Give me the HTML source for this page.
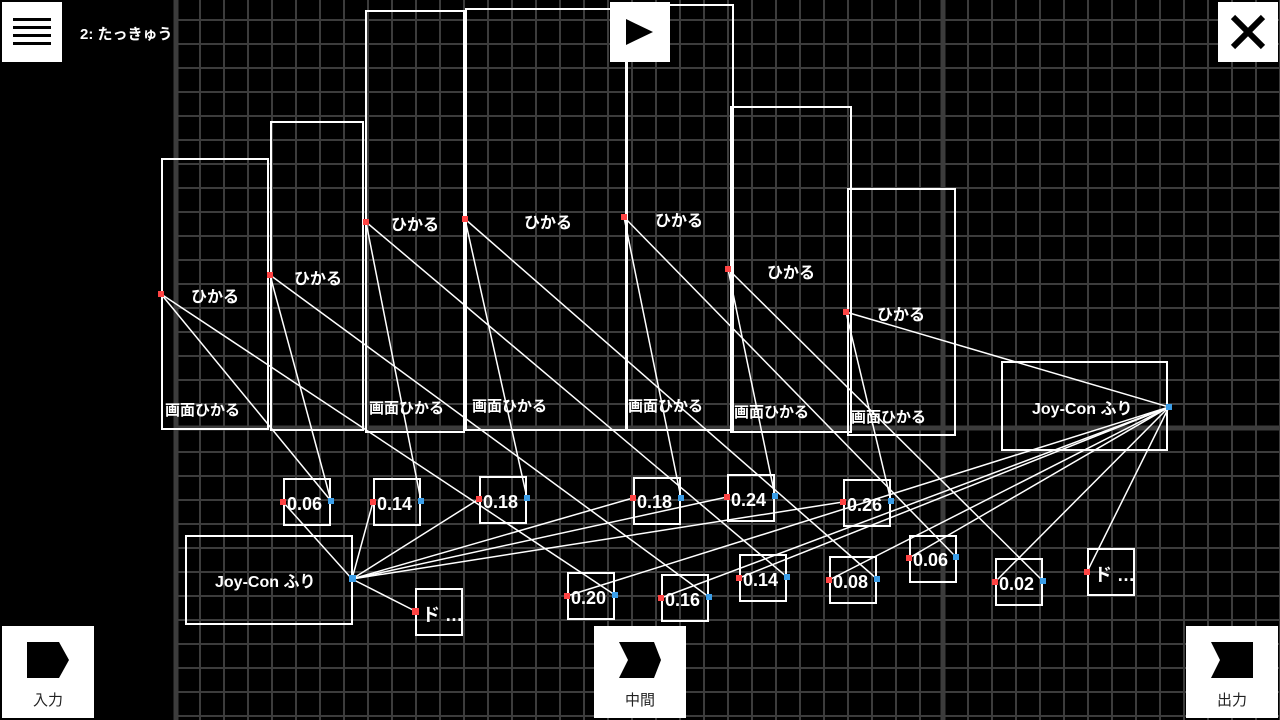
<!DOCTYPE html>
<html><head><meta charset="utf-8"><style>
html,body{margin:0;padding:0;background:#000;width:1280px;height:720px;overflow:hidden}
svg{display:block}
text{font-family:"Liberation Sans","Noto Sans CJK JP",sans-serif;fill:#fff}
</style></head><body>
<svg width="1280" height="720" viewBox="0 0 1280 720">
<defs>
<pattern id="g" x="175" y="19" width="24" height="24" patternUnits="userSpaceOnUse">
<rect x="0" y="0" width="2" height="24" fill="#3c3c3c"/>
<rect x="0" y="0" width="24" height="2" fill="#3c3c3c"/>
</pattern>
</defs>
<rect width="1280" height="720" fill="#000"/>
<rect x="175" y="0" width="1105" height="720" fill="url(#g)"/>
<line x1="176" y1="0" x2="176" y2="720" stroke="#3c3c3c" stroke-width="5"/>
<line x1="943" y1="0" x2="943" y2="720" stroke="#3c3c3c" stroke-width="5"/>
<line x1="176" y1="428" x2="1280" y2="428" stroke="#3c3c3c" stroke-width="5"/>

<g fill="none" stroke="#fff" stroke-width="2">
<rect x="162" y="159" width="106" height="270"/>
<rect x="271" y="122" width="92" height="308"/>
<rect x="366" y="11" width="98" height="421"/>
<rect x="466" y="9" width="160" height="421"/>
<rect x="627" y="5" width="106" height="425"/>
<rect x="731" y="107" width="120" height="325"/>
<rect x="848" y="189" width="107" height="246"/>
<rect x="1002" y="362" width="165" height="88"/>
<rect x="186" y="536" width="166" height="88"/>
<rect x="284" y="479" width="46" height="46"/>
<rect x="374" y="479" width="46" height="46"/>
<rect x="480" y="477" width="46" height="46"/>
<rect x="634" y="478" width="46" height="46"/>
<rect x="728" y="475" width="46" height="46"/>
<rect x="844" y="480" width="46" height="46"/>
<rect x="910" y="536" width="46" height="46"/>
<rect x="996" y="559" width="46" height="46"/>
<rect x="1088" y="549" width="46" height="46"/>
<rect x="416" y="589" width="46" height="46"/>
<rect x="568" y="573" width="46" height="46"/>
<rect x="662" y="575" width="46" height="46"/>
<rect x="740" y="555" width="46" height="46"/>
<rect x="830" y="557" width="46" height="46"/>
</g>

<g stroke="#fff" stroke-width="1.5">
<line x1="352" y1="579" x2="283" y2="502"/>
<line x1="352" y1="579" x2="373" y2="502"/>
<line x1="352" y1="579" x2="479" y2="499"/>
<line x1="352" y1="579" x2="633" y2="498"/>
<line x1="352" y1="579" x2="727" y2="497"/>
<line x1="352" y1="579" x2="843" y2="502"/>
<line x1="352" y1="579" x2="415" y2="611"/>
<line x1="1169" y1="407" x2="567" y2="596"/>
<line x1="1169" y1="407" x2="661" y2="598"/>
<line x1="1169" y1="407" x2="739" y2="578"/>
<line x1="1169" y1="407" x2="829" y2="580"/>
<line x1="1169" y1="407" x2="909" y2="558"/>
<line x1="1169" y1="407" x2="995" y2="582"/>
<line x1="1169" y1="407" x2="1087" y2="572"/>
<line x1="161" y1="294" x2="331" y2="501"/>
<line x1="161" y1="294" x2="615" y2="595"/>
<line x1="270" y1="275" x2="331" y2="501"/>
<line x1="270" y1="275" x2="709" y2="597"/>
<line x1="366" y1="222" x2="421" y2="501"/>
<line x1="366" y1="222" x2="787" y2="577"/>
<line x1="465" y1="219" x2="527" y2="498"/>
<line x1="465" y1="219" x2="877" y2="579"/>
<line x1="624" y1="217" x2="681" y2="498"/>
<line x1="624" y1="217" x2="956" y2="557"/>
<line x1="728" y1="269" x2="775" y2="496"/>
<line x1="728" y1="269" x2="1043" y2="581"/>
<line x1="846" y1="312" x2="891" y2="501"/>
<line x1="846" y1="312" x2="1169" y2="407"/>
</g>

<g fill="#f44">
<rect x="158" y="291" width="6" height="6"/><rect x="267" y="272" width="6" height="6"/>
<rect x="363" y="219" width="6" height="6"/><rect x="462" y="216" width="6" height="6"/>
<rect x="621" y="214" width="6" height="6"/><rect x="725" y="266" width="6" height="6"/>
<rect x="843" y="309" width="6" height="6"/>
<rect x="280" y="499" width="6" height="6"/><rect x="370" y="499" width="6" height="6"/>
<rect x="476" y="496" width="6" height="6"/><rect x="630" y="495" width="6" height="6"/>
<rect x="724" y="494" width="6" height="6"/><rect x="840" y="499" width="6" height="6"/>
<rect x="906" y="555" width="6" height="6"/><rect x="992" y="579" width="6" height="6"/>
<rect x="1084" y="569" width="6" height="6"/><rect x="412" y="608" width="7" height="7"/>
<rect x="564" y="593" width="6" height="6"/><rect x="658" y="595" width="6" height="6"/>
<rect x="736" y="575" width="6" height="6"/><rect x="826" y="577" width="6" height="6"/>
</g>
<g fill="#3b9ee8">
<rect x="328" y="498" width="6" height="6"/><rect x="418" y="498" width="6" height="6"/>
<rect x="524" y="495" width="6" height="6"/><rect x="678" y="495" width="6" height="6"/>
<rect x="772" y="493" width="6" height="6"/><rect x="888" y="498" width="6" height="6"/>
<rect x="953" y="554" width="6" height="6"/><rect x="1040" y="578" width="6" height="6"/>
<rect x="612" y="592" width="6" height="6"/><rect x="706" y="594" width="6" height="6"/>
<rect x="784" y="574" width="6" height="6"/><rect x="874" y="576" width="6" height="6"/>
<rect x="349" y="575" width="7" height="7"/><rect x="1166" y="404" width="6" height="6"/>
</g>

<g font-size="16" font-weight="bold">
<text x="191" y="302">ひかる</text>
<text x="294" y="284">ひかる</text>
<text x="391" y="230">ひかる</text>
<text x="524" y="228">ひかる</text>
<text x="655" y="226">ひかる</text>
<text x="767" y="278">ひかる</text>
<text x="877" y="320">ひかる</text>
</g>
<g font-size="15" font-weight="bold">
<text x="165" y="415">画面ひかる</text>
<text x="369" y="413">画面ひかる</text>
<text x="472" y="411">画面ひかる</text>
<text x="628" y="411">画面ひかる</text>
<text x="734" y="417">画面ひかる</text>
<text x="851" y="422">画面ひかる</text>
<text x="1032" y="414" font-size="16">Joy-Con ふり</text>
<text x="215" y="587" font-size="16">Joy-Con ふり</text>
</g>
<g font-size="18" font-weight="bold">
<text x="287" y="510">0.06</text><text x="377" y="510">0.14</text>
<text x="483" y="508">0.18</text><text x="637" y="508">0.18</text>
<text x="731" y="506">0.24</text><text x="847" y="511">0.26</text>
<text x="913" y="566">0.06</text><text x="999" y="590">0.02</text>
<text x="1094" y="581">ド …</text><text x="422" y="621">ド …</text>
<text x="571" y="604">0.20</text><text x="665" y="606">0.16</text>
<text x="743" y="586">0.14</text><text x="833" y="588">0.08</text>
</g>

<text x="80" y="39" font-size="15" font-weight="bold">2: たっきゅう</text>

<rect x="2" y="2" width="60" height="60" fill="#fff"/>
<g fill="#000"><rect x="13" y="18" width="38" height="3"/><rect x="13" y="26" width="38" height="3"/><rect x="13" y="34" width="38" height="3"/><rect x="13" y="42" width="38" height="3"/></g>
<rect x="610" y="2" width="60" height="60" fill="#fff"/>
<polygon points="626,19 653,32 626,45" fill="#000"/>
<rect x="1218" y="2" width="60" height="60" fill="#fff"/>
<path d="M1233 17L1263 47M1263 17L1233 47" stroke="#000" stroke-width="6"/>

<rect x="2" y="626" width="92" height="92" fill="#fff"/>
<polygon points="27,642 59,642 69,660 59,678 27,678" fill="#000"/>
<text x="33" y="705" font-size="15" style="fill:#222">入力</text>
<rect x="594" y="626" width="92" height="92" fill="#fff"/>
<polygon points="619,642 654,642 661,660 654,678 619,678 628,660" fill="#000"/>
<text x="625" y="705" font-size="15" style="fill:#222">中間</text>
<rect x="1186" y="626" width="92" height="92" fill="#fff"/>
<polygon points="1211,642 1253,642 1253,678 1211,678 1220,660" fill="#000"/>
<text x="1217" y="705" font-size="15" style="fill:#222">出力</text>
</svg>
</body></html>
